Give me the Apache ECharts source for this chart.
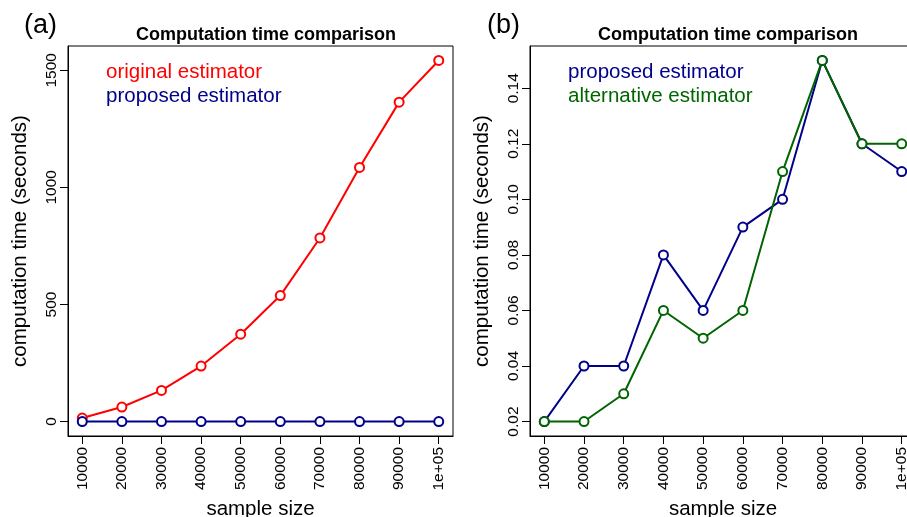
<!DOCTYPE html>
<html>
<head>
<meta charset="utf-8">
<script src="https://cdn.jsdelivr.net/npm/echarts@6/dist/echarts.min.js"></script>
<style>html,body{margin:0;padding:0;background:#fff}#c{width:907px;height:517px}</style>
</head>
<body>
<div id="c"></div>
<script>
// ---- data ----
var sampleSizes = [10000, 20000, 30000, 40000, 50000, 60000, 70000, 80000, 90000, 100000];
var xTickLabels = ['10000', '20000', '30000', '40000', '50000', '60000', '70000', '80000', '90000', '1e+05'];
// panel (a)
var originalA = [15, 62, 133, 237, 373, 538, 784, 1085, 1364, 1542];
var proposedA = [0.02, 0.04, 0.04, 0.08, 0.06, 0.09, 0.10, 0.15, 0.12, 0.11];
var yTicksA = [0, 500, 1000, 1500];
// panel (b)
var proposedB = [0.02, 0.04, 0.04, 0.08, 0.06, 0.09, 0.10, 0.15, 0.12, 0.11];
var alternativeB = [0.02, 0.02, 0.03, 0.06, 0.05, 0.06, 0.11, 0.15, 0.12, 0.12];
var yTicksB = [0.02, 0.04, 0.06, 0.08, 0.10, 0.12, 0.14];

var RED = '#FF0000', BLUE = '#00008B', GREEN = '#006400';
var FONT = '"Liberation Sans", Arial, Helvetica, sans-serif';

function pairs(vals) { return sampleSizes.map(function (x, i) { return [x, vals[i]]; }); }
function rng(arr) {
  var mn = Math.min.apply(null, arr), mx = Math.max.apply(null, arr), d = (mx - mn) * 0.04;
  return [mn - d, mx + d];
}
var xr = rng(sampleSizes);
var yrA = rng(originalA.concat(proposedA));
var yrB = rng(proposedB.concat(alternativeB));

function xAxis(gi) {
  return {
    type: 'value', gridIndex: gi, min: xr[0], max: xr[1],
    name: 'sample size', nameLocation: 'middle', nameGap: 60,
    nameTextStyle: { fontFamily: FONT, fontSize: 20.5, color: '#000' },
    axisLine: { show: true, onZero: false, lineStyle: { color: '#000', width: 1 } },
    axisTick: { show: true, length: 8, customValues: sampleSizes, lineStyle: { color: '#000', width: 1 } },
    axisLabel: {
      show: true, rotate: 90, margin: 11, customValues: sampleSizes,
      fontFamily: FONT, fontSize: 15.5, color: '#000',
      formatter: function (v) { var i = sampleSizes.indexOf(v); return i >= 0 ? xTickLabels[i] : ''; }
    },
    splitLine: { show: false }
  };
}
function yAxis(gi, r, ticks, fmt) {
  return {
    type: 'value', gridIndex: gi, min: r[0], max: r[1],
    name: 'computation time (seconds)', nameLocation: 'middle', nameGap: 37,
    nameTextStyle: { fontFamily: FONT, fontSize: 20.5, color: '#000' },
    axisLine: { show: true, onZero: false, lineStyle: { color: '#000', width: 1 } },
    axisTick: { show: true, length: 8, customValues: ticks, lineStyle: { color: '#000', width: 1 } },
    axisLabel: {
      show: true, rotate: 90, margin: 8, customValues: ticks,
      fontFamily: FONT, fontSize: 15.5, color: '#000', formatter: fmt
    },
    splitLine: { show: false }
  };
}
function line(name, gi, vals, color, z) {
  return {
    name: name, type: 'line', xAxisIndex: gi, yAxisIndex: gi, data: pairs(vals),
    symbol: 'emptyCircle', symbolSize: 9, z: z,
    lineStyle: { color: color, width: 2 },
    itemStyle: { color: color, borderColor: color, borderWidth: 2 },
    emphasis: { disabled: true }, animation: false
  };
}

var chart = echarts.init(document.getElementById('c'), null, { renderer: 'canvas' });
chart.setOption({
  backgroundColor: '#fff',
  animation: false,
  title: [
    { text: 'Computation time comparison', left: 261, top: 21, textAlign: 'center',
      textStyle: { fontFamily: FONT, fontSize: 18, fontWeight: 'bold', color: '#000' } },
    { text: 'Computation time comparison', left: 723, top: 21, textAlign: 'center',
      textStyle: { fontFamily: FONT, fontSize: 18, fontWeight: 'bold', color: '#000' } }
  ],
  grid: [
    { left: 68, top: 46, width: 385, height: 390, outerBoundsMode: 'none', containLabel: false,
      show: true, borderColor: '#000', borderWidth: 1, backgroundColor: 'transparent' },
    { left: 530, top: 46, width: 386, height: 390, outerBoundsMode: 'none', containLabel: false,
      show: true, borderColor: '#000', borderWidth: 1, backgroundColor: 'transparent' }
  ],
  xAxis: [xAxis(0), xAxis(1)],
  yAxis: [
    yAxis(0, yrA, yTicksA, function (v) { return String(Math.round(v)); }),
    yAxis(1, yrB, yTicksB, function (v) { return v.toFixed(2); })
  ],
  series: [
    line('original estimator', 0, originalA, RED, 2),
    line('proposed estimator', 0, proposedA, BLUE, 3),
    line('proposed estimator', 1, proposedB, BLUE, 2),
    line('alternative estimator', 1, alternativeB, GREEN, 3)
  ],
  graphic: [
    { type: 'text', left: 24, top: 12, style: { text: '(a)', font: '27px ' + FONT, fill: '#000' } },
    { type: 'text', left: 487, top: 12, style: { text: '(b)', font: '27px ' + FONT, fill: '#000' } },
    { type: 'text', left: 106, top: 62, style: { text: 'original estimator', font: '20.5px ' + FONT, fill: RED } },
    { type: 'text', left: 106, top: 86, style: { text: 'proposed estimator', font: '20.5px ' + FONT, fill: BLUE } },
    { type: 'text', left: 568, top: 62, style: { text: 'proposed estimator', font: '20.5px ' + FONT, fill: BLUE } },
    { type: 'text', left: 568, top: 86, style: { text: 'alternative estimator', font: '20.5px ' + FONT, fill: GREEN } }
  ]
});
</script>
</body>
</html>
